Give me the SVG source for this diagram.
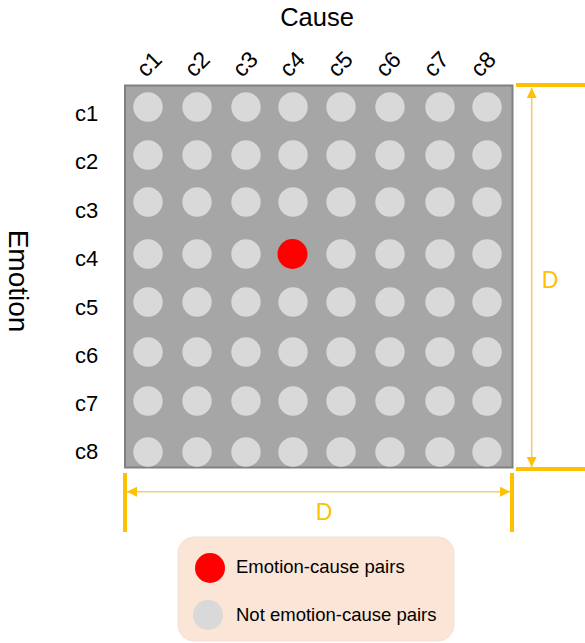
<svg xmlns="http://www.w3.org/2000/svg" width="585" height="643" viewBox="0 0 585 643">
<style>
text{font-family:"Liberation Sans",Arial,sans-serif;fill:#000}
.lbl{font-size:22px}
.col{font-size:23px}
.d{fill:#ffc000;font-size:23px;text-anchor:middle}
.dot{fill:#d9d9d9}
.bar{stroke:#ffc000;stroke-width:4}
.dim{stroke:#f0cd7a;stroke-width:1.6;fill:none}
</style>
<defs>
<marker id="ah" viewBox="0 0 10 10" refX="10" refY="5" markerWidth="10" markerHeight="10" markerUnits="userSpaceOnUse" orient="auto-start-reverse">
<path d="M0,0 L10,5 L0,10 z" fill="#ffc000"/>
</marker>
</defs>
<rect width="585" height="643" fill="#fff"/>
<text x="317" y="26" font-size="25.5" text-anchor="middle">Cause</text>
<text transform="translate(9,281) rotate(90)" font-size="28" text-anchor="middle">Emotion</text>
<g id="colLabels" class="col" text-anchor="middle">
<text transform="translate(149,64) rotate(-45)" dy="8">c1</text>
<text transform="translate(197,64) rotate(-45)" dy="8">c2</text>
<text transform="translate(245,64) rotate(-45)" dy="8">c3</text>
<text transform="translate(292,64) rotate(-45)" dy="8">c4</text>
<text transform="translate(340,64) rotate(-45)" dy="8">c5</text>
<text transform="translate(388,64) rotate(-45)" dy="8">c6</text>
<text transform="translate(436,64) rotate(-45)" dy="8">c7</text>
<text transform="translate(483,64) rotate(-45)" dy="8">c8</text>
</g>
<g id="rowLabels" class="lbl">
<text x="75" y="121">c1</text>
<text x="75" y="169">c2</text>
<text x="75" y="218">c3</text>
<text x="75" y="266">c4</text>
<text x="75" y="315">c5</text>
<text x="75" y="363">c6</text>
<text x="75" y="411">c7</text>
<text x="75" y="459">c8</text>
</g>
<g id="matrix">
<rect x="125" y="85.5" width="387.5" height="382" fill="#a6a6a6" stroke="#808080" stroke-width="2"/>
<g class="dot">
<circle cx="148" cy="107" r="14.7"/><circle cx="197" cy="107" r="14.7"/><circle cx="246" cy="107" r="14.7"/><circle cx="293" cy="107" r="14.7"/><circle cx="341" cy="107" r="14.7"/><circle cx="390" cy="107" r="14.7"/><circle cx="440" cy="107" r="14.7"/><circle cx="487" cy="107" r="14.7"/>
<circle cx="148" cy="155" r="14.7"/><circle cx="197" cy="155" r="14.7"/><circle cx="246" cy="155" r="14.7"/><circle cx="293" cy="155" r="14.7"/><circle cx="341" cy="155" r="14.7"/><circle cx="390" cy="155" r="14.7"/><circle cx="440" cy="155" r="14.7"/><circle cx="487" cy="155" r="14.7"/>
<circle cx="148" cy="202" r="14.7"/><circle cx="197" cy="202" r="14.7"/><circle cx="246" cy="202" r="14.7"/><circle cx="293" cy="202" r="14.7"/><circle cx="341" cy="202" r="14.7"/><circle cx="390" cy="202" r="14.7"/><circle cx="440" cy="202" r="14.7"/><circle cx="487" cy="202" r="14.7"/>
<circle cx="148" cy="254" r="14.7"/><circle cx="197" cy="254" r="14.7"/><circle cx="246" cy="254" r="14.7"/><circle cx="341" cy="254" r="14.7"/><circle cx="390" cy="254" r="14.7"/><circle cx="440" cy="254" r="14.7"/><circle cx="487" cy="254" r="14.7"/>
<circle cx="148" cy="302" r="14.7"/><circle cx="197" cy="302" r="14.7"/><circle cx="246" cy="302" r="14.7"/><circle cx="293" cy="302" r="14.7"/><circle cx="341" cy="302" r="14.7"/><circle cx="390" cy="302" r="14.7"/><circle cx="440" cy="302" r="14.7"/><circle cx="487" cy="302" r="14.7"/>
<circle cx="148" cy="352" r="14.7"/><circle cx="197" cy="352" r="14.7"/><circle cx="246" cy="352" r="14.7"/><circle cx="293" cy="352" r="14.7"/><circle cx="341" cy="352" r="14.7"/><circle cx="390" cy="352" r="14.7"/><circle cx="440" cy="352" r="14.7"/><circle cx="487" cy="352" r="14.7"/>
<circle cx="148" cy="401" r="14.7"/><circle cx="197" cy="401" r="14.7"/><circle cx="246" cy="401" r="14.7"/><circle cx="293" cy="401" r="14.7"/><circle cx="341" cy="401" r="14.7"/><circle cx="390" cy="401" r="14.7"/><circle cx="440" cy="401" r="14.7"/><circle cx="487" cy="401" r="14.7"/>
<circle cx="148" cy="452" r="14.7"/><circle cx="197" cy="452" r="14.7"/><circle cx="246" cy="452" r="14.7"/><circle cx="293" cy="452" r="14.7"/><circle cx="341" cy="452" r="14.7"/><circle cx="390" cy="452" r="14.7"/><circle cx="440" cy="452" r="14.7"/><circle cx="487" cy="452" r="14.7"/>
</g>
<circle id="pair" cx="292.5" cy="254" r="15" fill="#ff0000"/>
</g>
<g id="dimensions">
<line class="bar" x1="516" y1="85" x2="585" y2="85"/>
<line class="bar" x1="516" y1="469" x2="585" y2="469"/>
<line class="dim" x1="531.7" y1="88" x2="531.7" y2="467" marker-start="url(#ah)" marker-end="url(#ah)"/>
<line class="bar" x1="125" y1="473" x2="125" y2="532"/>
<line class="bar" x1="512" y1="473" x2="512" y2="532"/>
<line class="dim" x1="127" y1="491.7" x2="510" y2="491.7" marker-start="url(#ah)" marker-end="url(#ah)"/>
<text class="d" x="550" y="288">D</text>
<text class="d" x="324" y="520">D</text>
</g>
<g id="legend">
<rect x="178" y="537" width="276" height="104" rx="16" fill="#fbe5d6" stroke="#f4e0d4" stroke-width="1"/>
<circle cx="210" cy="568" r="15" fill="#ff0000"/>
<circle cx="208" cy="615" r="15" fill="#d9d9d9"/>
<text x="236" y="573" font-size="18.5">Emotion-cause pairs</text>
<text x="236" y="621" font-size="18.5">Not emotion-cause pairs</text>
</g>
</svg>
